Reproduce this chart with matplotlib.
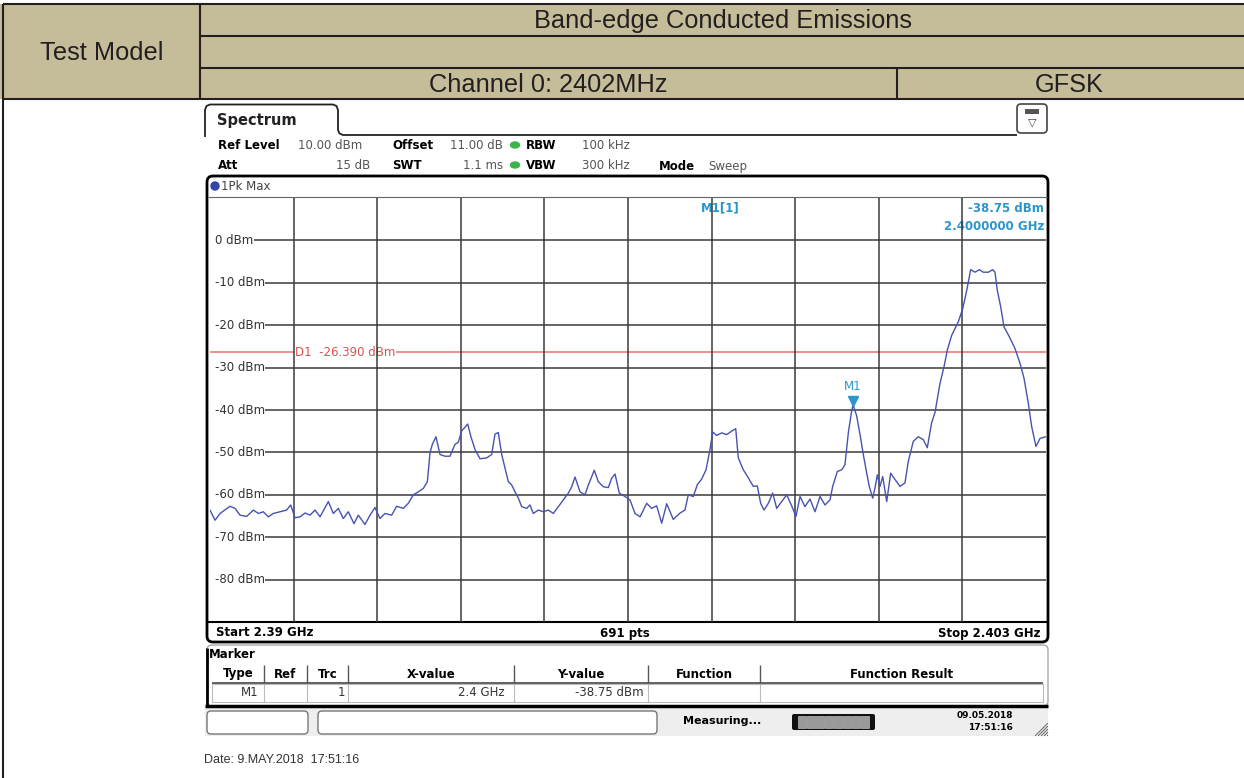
import numpy as np
import matplotlib.pyplot as plt
from matplotlib.patches import Rectangle, FancyBboxPatch, Ellipse
from matplotlib.transforms import offset_copy

# trace (frequency in MHz, level in dBm)
freq_mhz = [
    2390.000, 2390.078, 2390.156, 2390.311, 2390.389, 2390.467, 2390.570, 2390.674,
    2390.752, 2390.829, 2390.907, 2390.985, 2391.089, 2391.192, 2391.255, 2391.322,
    2391.400, 2391.477, 2391.555, 2391.633, 2391.711, 2391.840, 2391.918, 2391.996,
    2392.073, 2392.151, 2392.239, 2392.306, 2392.410, 2392.488, 2392.566, 2392.643,
    2392.721, 2392.825, 2392.903, 2393.006, 2393.084, 2393.162, 2393.240, 2393.317,
    2393.380, 2393.421, 2393.457, 2393.514, 2393.577, 2393.654, 2393.732, 2393.810,
    2393.861, 2393.914, 2393.965, 2394.007, 2394.054, 2394.120, 2394.199, 2394.302,
    2394.380, 2394.431, 2394.483, 2394.536, 2394.587, 2394.639, 2394.692, 2394.743,
    2394.795, 2394.847, 2394.925, 2394.976, 2395.027, 2395.105, 2395.183, 2395.261,
    2395.339, 2395.416, 2395.494, 2395.572, 2395.625, 2395.676, 2395.754, 2395.831,
    2395.883, 2395.976, 2396.038, 2396.116, 2396.194, 2396.246, 2396.298, 2396.365,
    2396.453, 2396.531, 2396.609, 2396.687,
    2396.791, 2396.868, 2396.946, 2397.024, 2397.102, 2397.204, 2397.309, 2397.386,
    2397.438, 2397.515, 2397.578, 2397.646, 2397.713, 2397.775, 2397.817, 2397.879,
    2397.957, 2398.035, 2398.112, 2398.175, 2398.215, 2398.293, 2398.371, 2398.448,
    2398.511, 2398.563, 2398.615, 2398.682, 2398.750, 2398.812, 2398.890, 2398.968,
    2399.045, 2399.112, 2399.175, 2399.252, 2399.330, 2399.408, 2399.486, 2399.563,
    2399.641, 2399.683, 2399.755, 2399.823, 2399.874, 2399.926, 2399.978, 2400.000,
    2400.056, 2400.108, 2400.159, 2400.212, 2400.252, 2400.305, 2400.341, 2400.377,
    2400.419, 2400.461, 2400.523, 2400.585, 2400.652, 2400.730, 2400.807, 2400.859,
    2400.936, 2401.014, 2401.092, 2401.154, 2401.222, 2401.274,
    2401.352, 2401.414, 2401.465, 2401.533, 2401.636, 2401.705, 2401.767, 2401.829,
    2401.896, 2401.963, 2402.025, 2402.103, 2402.171, 2402.207, 2402.243, 2402.296,
    2402.347, 2402.429, 2402.518, 2402.596, 2402.658, 2402.725, 2402.777, 2402.844,
    2402.907, 2403.000,
]
level_dbm = [
    -63.6, -66.0, -64.4, -62.7, -63.2, -64.8, -65.1, -63.6,
    -64.4, -64.0, -65.2, -64.4, -64.0, -63.6, -62.4, -65.4,
    -65.2, -64.3, -64.8, -63.6, -65.2, -61.6, -64.4, -63.2,
    -65.6, -64.0, -66.8, -64.8, -67.0, -64.8, -63.0, -65.6,
    -64.4, -64.8, -62.7, -63.2, -62.0, -60.0, -59.3, -58.5,
    -56.9, -50.1, -48.1, -46.3, -50.5, -50.9, -50.9, -48.1,
    -47.6, -44.9, -44.1, -43.3, -46.1, -49.3, -51.5, -51.3,
    -50.5, -45.7, -45.3, -50.5, -53.7, -56.9, -57.7, -59.3,
    -60.8, -62.8, -63.2, -62.4, -64.4, -63.6, -64.0, -63.6,
    -64.4, -62.8, -61.2, -59.6, -58.1, -55.8, -59.3, -60.0,
    -57.7, -54.2, -56.9, -58.1, -58.3, -56.1, -55.1, -59.6,
    -60.4, -61.2, -64.4, -65.2,
    -62.0, -63.2, -62.6, -66.7, -62.1, -65.8, -64.3, -63.6,
    -60.0, -60.4, -57.6, -56.3, -54.1, -49.3, -45.2, -46.0,
    -45.4, -45.8, -45.0, -44.4, -51.3, -54.1, -56.0, -58.0,
    -57.9, -62.0, -63.6, -62.0, -59.6, -63.2, -61.6, -60.0,
    -62.6, -65.1, -60.4, -62.8, -61.0, -64.0, -60.4, -62.4,
    -61.2, -58.0, -54.5, -54.1, -52.9, -45.4, -40.2, -38.75,
    -41.4, -45.8, -50.5, -54.9, -58.0, -60.8, -58.4, -55.3,
    -58.0, -55.7, -61.6, -54.9, -56.4, -58.0, -57.2, -52.1,
    -47.4, -46.3, -47.0, -48.9, -43.0, -40.6,
    -33.7, -29.8, -25.9, -22.4, -19.2, -16.1, -11.8, -6.9,
    -7.5, -6.9, -7.5, -7.5, -6.9, -7.5, -11.8, -15.7,
    -20.4, -22.7, -25.5, -29.0, -32.5, -38.4, -43.9, -48.6,
    -46.7, -46.3,
]

start_mhz, stop_mhz = 2390.0, 2403.0
ref_level, y_bottom = 10, -90
grid_levels = [0, -10, -20, -30, -40, -50, -60, -70, -80]
d1_level = -26.39
m1_freq, m1_level = 2400.0, -38.75

W, H = 1244, 778
fig = plt.figure(figsize=(W / 100, H / 100), dpi=100)
bg = fig.add_axes([0, 0, 1, 1])
bg.set_xlim(0, W)
bg.set_ylim(H, 0)
bg.axis('off')


def line(xs, ys, c='#231f20', lw=1.5, **kw):
    bg.plot(xs, ys, color=c, lw=lw, solid_capstyle='butt', **kw)


def txt(x, y, s, size=8.5, ha='left', va='center', c='black', bold=False,
        fam='DejaVu Sans', **kw):
    bg.text(x, y, s, fontsize=size, ha=ha, va=va, color=c, family=fam,
            fontweight='bold' if bold else 'normal', **kw)


# ---- report table header ----
tan = '#c5bd99'
ink = '#231f20'
bg.add_patch(Rectangle((0, 4), W, 95, fc=tan, ec='none'))
line([3, W], [4, 4])
line([200, W], [36, 36])
line([200, W], [68, 68])
line([3, W], [99, 99])
line([3, 3], [4, H])
line([200, 200], [4, 99])
line([897, 897], [68, 99])
hf = 'Liberation Sans'
txt(723, 21, 'Band-edge Conducted Emissions', size=18.3, ha='center', c=ink, fam=hf)
txt(102, 53, 'Test Model', size=18.3, ha='center', c=ink, fam=hf)
txt(548, 85, 'Channel 0: 2402MHz', size=18.3, ha='center', c=ink, fam=hf)
txt(1069, 85, 'GFSK', size=18.3, ha='center', c=ink, fam=hf)

# ---- analyzer screenshot ----
tab = [(205, 137), (205, 110), (206.5, 106), (210, 104.5), (333, 104.5),
       (336.5, 106), (338, 110), (338, 130), (339.5, 133.5), (343, 135), (1017, 135)]
line([p[0] for p in tab], [p[1] for p in tab], c='#222222', lw=1.3)
txt(217, 120, 'Spectrum', size=10.5, bold=True, c='#222222')
bg.add_patch(FancyBboxPatch((1017, 104), 30, 29, boxstyle='round,pad=0,rounding_size=4',
                            fc='white', ec='#444444', lw=1.2))
bg.add_patch(Rectangle((1025, 109), 14, 5, fc='#555555', ec='none'))
txt(1032, 122, '\u25bd', size=8, ha='center', c='#444444')

grey = '#555555'
txt(218, 145, 'Ref Level', bold=True)
txt(298, 145, '10.00 dBm', c=grey)
txt(392, 145, 'Offset', bold=True)
txt(503, 145, '11.00 dB', ha='right', c=grey)
txt(526, 145, 'RBW', bold=True)
txt(582, 145, '100 kHz', c=grey)
txt(218, 165, 'Att', bold=True)
txt(370, 165, '15 dB', ha='right', c=grey)
txt(392, 165, 'SWT', bold=True)
txt(503, 165, '1.1 ms', ha='right', c=grey)
txt(526, 165, 'VBW', bold=True)
txt(582, 165, '300 kHz', c=grey)
txt(659, 166, 'Mode', bold=True)
txt(708, 166, 'Sweep', c=grey)
for yy in (145, 165):
    bg.add_patch(Ellipse((515, yy), 9, 6, color='#3cb44b'))

# plot frame
bg.add_patch(FancyBboxPatch((207, 176), 841, 466, boxstyle='round,pad=0,rounding_size=6',
                            fc='white', ec='black', lw=2, zorder=0.5))
line([208, 1047], [197, 197], c='#666666', lw=0.8)
line([208, 1047], [622, 622], c='black', lw=1.5)
bg.add_patch(Ellipse((215, 186), 8, 8, color='#3344aa'))
txt(221, 186, '1Pk Max', c='#444444')
txt(216, 633, 'Start 2.39 GHz', bold=True)
txt(625, 633, '691 pts', bold=True, ha='center')
txt(1041, 633, 'Stop 2.403 GHz', bold=True, ha='right')

mk = '#2a96cc'
txt(720, 208, 'M1[1]', bold=True, c=mk, ha='center')
txt(1044, 208, '-38.75 dBm', bold=True, c=mk, ha='right')
txt(1044, 226, '2.4000000 GHz', bold=True, c=mk, ha='right')

# marker table
bg.add_patch(FancyBboxPatch((207, 645), 841, 61, boxstyle='round,pad=0,rounding_size=5',
                            fc='white', ec='#aaaaaa', lw=1))
line([207, 207], [648, 706], c='black', lw=2)
line([205, 1048], [706, 706], c='black', lw=2.5)
txt(209, 654, 'Marker', bold=True)
cols = [212, 264, 307, 348, 514, 648, 760, 1043]
heads = ['Type', 'Ref', 'Trc', 'X-value', 'Y-value', 'Function', 'Function Result']
for i, hname in enumerate(heads):
    txt((cols[i] + cols[i + 1]) / 2, 674, hname, bold=True, ha='center')
for cx in cols[1:-1]:
    line([cx, cx], [665, 683], c='#555555', lw=1)
line([212, 1043], [683, 683], c='#555555', lw=1.3)
bg.add_patch(Rectangle((212, 684), 831, 18, fc='white', ec='#bbbbbb', lw=0.8))
for cx in cols[1:-1]:
    line([cx, cx], [684, 702], c='#bbbbbb', lw=0.8)
txt(258, 693, 'M1', ha='right', c='#333333')
txt(345, 693, '1', ha='right', c='#333333')
txt(505, 693, '2.4 GHz', ha='right', c='#333333')
txt(644, 693, '-38.75 dBm', ha='right', c='#333333')

# status bar
bg.add_patch(Rectangle((205, 708), 843, 28, fc='#eeeeee', ec='none'))
bg.add_patch(FancyBboxPatch((207, 711), 101, 23, boxstyle='round,pad=0,rounding_size=4',
                            fc='white', ec='#777777', lw=1))
bg.add_patch(FancyBboxPatch((318, 711), 339, 23, boxstyle='round,pad=0,rounding_size=4',
                            fc='white', ec='#777777', lw=1))
txt(683, 721, 'Measuring...', bold=True, size=8)
bg.add_patch(FancyBboxPatch((792, 714), 83, 16, boxstyle='round,pad=0,rounding_size=2',
                            fc='#111111', ec='none'))
for k in range(8):
    bg.add_patch(Rectangle((798 + k * 9, 716), 8, 12, fc='#9a9a9a', ec='#bbbbbb', lw=0.5))
txt(1013, 715, '09.05.2018', bold=True, size=6.5, ha='right')
txt(1013, 727, '17:51:16', bold=True, size=6.5, ha='right')
for k in range(5):
    line([1035 + k * 3, 1048], [736, 723 + k * 3], c='#666666', lw=0.7)

txt(204, 760, 'Date: 9.MAY.2018  17:51:16', size=9, c='#333333', fam=hf)

# ---- spectrum trace ----
ax = fig.add_axes([210 / W, 1 - 622 / H, 836 / W, (622 - 198) / H])
ax.set_xlim(start_mhz, stop_mhz)
ax.set_ylim(y_bottom, ref_level)
ax.set_facecolor('none')
for s in ax.spines.values():
    s.set_visible(False)
ax.set_xticks([])
ax.set_yticks([])

div = (stop_mhz - start_mhz) / 10
ax.vlines([start_mhz + div * k for k in range(1, 10)], y_bottom, ref_level + 0.3,
          color='#3a3a3a', lw=1.1, zorder=2)
ax.hlines(grid_levels, start_mhz + 0.08, stop_mhz, color='#3a3a3a', lw=1.1, zorder=1)
for lvl in grid_levels:
    ax.text(start_mhz + 0.07, lvl, f'{lvl} dBm', fontsize=8.5, va='center', color='#333333',
            zorder=1.5, bbox=dict(fc='white', ec='none', pad=0.6))

ax.axhline(d1_level, color='#e57373', lw=1.1, zorder=1)
ax.text(start_mhz + div + 0.02, d1_level, 'D1  -26.390 dBm', fontsize=8.5, va='center',
        color='#d9534f', zorder=1.5, bbox=dict(fc='white', ec='none', pad=0.4))

ax.plot(freq_mhz, level_dbm, color='#4753b0', lw=1.0, zorder=3)
ax.plot([m1_freq], [m1_level], marker='v', ms=7, color=mk, ls='none', zorder=4,
        transform=offset_copy(ax.transData, fig=fig, x=0, y=4, units='dots'))
ax.annotate('M1', (m1_freq, m1_level), xytext=(0, 13), textcoords='offset points',
            ha='center', va='center', fontsize=8.5, color=mk, zorder=4)

fig.savefig('out.png', dpi=100)
